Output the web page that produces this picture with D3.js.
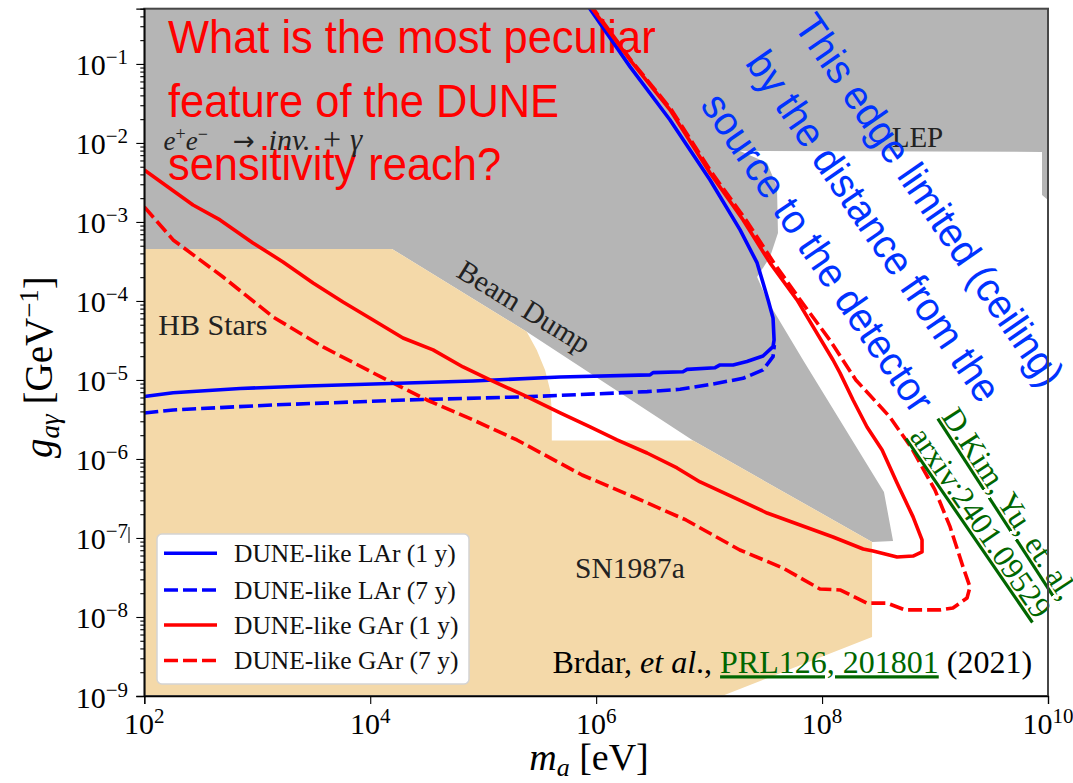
<!DOCTYPE html>
<html>
<head>
<meta charset="utf-8">
<script src="https://cdn.jsdelivr.net/npm/d3@7"></script>
<style>
  body { margin: 0; background: #fff; }
  svg { display: block; }
  .serif { font-family: 'Liberation Serif', 'DejaVu Serif', serif; }
</style>
</head>
<body>
<svg id="chart" width="1073" height="783"></svg>
<script>
(function(){
  // values: m_a in eV, g_ag in GeV^-1
  var garOneYear = [
    [1e2,4.55e-3],[2.70e2,1.64e-3],[4.68e2,1.06e-3],[9.16e2,5.42e-4],[1.69e3,3.12e-4],
    [3.12e3,1.69e-4],[5.74e3,9.7e-5],[1.06e4,5.74e-5],[1.95e4,3.40e-5],[3.60e4,2.40e-5],
    [6.63e4,1.46e-5],[1.15e5,1.0e-5],[2.26e5,6.46e-6],[4.80e5,3.82e-6],[8.84e5,2.54e-6],
    [1.53e6,1.74e-6],[2.82e6,1.19e-6],[5.20e6,7.69e-7],[8.32e6,5.12e-7],[1.63e7,3.30e-7],
    [3.26e7,2.07e-7],[6.38e7,1.46e-7],[1.25e8,1.03e-7],[2.31e8,7.26e-8],[2.83e8,6.85e-8],
    [4.61e8,5.74e-8],[6.39e8,5.91e-8],[7.67e8,6.65e-8],[7.67e8,9.44e-8],[6.39e8,1.85e-7],
    [4.61e8,4.97e-7],[3.40e8,1.30e-6],[2.50e8,2.54e-6],[1.88e8,5.58e-6],[1.44e8,1.23e-5],
    [1.25e8,1.79e-5],[6.00e7,1.03e-4],[3.46e7,3.03e-4],[2.00e7,1.06e-3],[1.02e7,4.17e-3],
    [4.51e6,2.62e-2],[2.00e6,0.112],[8.8e5,0.55]
  ];
  var garSevenYears = [
    [1e2,1.55e-3],[1.80e2,5.92e-4],[4.98e2,2.01e-4],[1.38e3,6.27e-5],[3.82e3,2.62e-5],
    [1.06e4,1.23e-5],[3.18e4,5.58e-6],[8.13e4,3.12e-6],[1.99e5,1.74e-6],[7.50e5,6.27e-7],
    [2.16e6,3.30e-7],[6.24e6,1.69e-7],[1.87e7,7.05e-8],[4.51e7,4.17e-8],[9.58e7,2.26e-8],
    [1.44e8,2.20e-8],[2.50e8,1.50e-8],[3.76e8,1.50e-8],[5.42e8,1.23e-8],[1.11e9,1.23e-8],
    [1.44e9,1.30e-8],[1.92e9,1.74e-8],[2.04e9,2.40e-8],[1.77e9,4.30e-8],[1.36e9,1.38e-7],
    [9.98e8,4.06e-7],[6.11e8,1.42e-6],[3.98e8,3.40e-6],[1.99e8,1.0e-5],[1.17e8,3.21e-5],
    [6.40e7,1.03e-4],[3.75e7,3.03e-4],[2.12e7,1.06e-3],[1.06e7,4.17e-3],[4.65e6,2.62e-2],
    [2.03e6,0.112],[9.0e5,0.55]
  ];
  var larOneYear = [
    [1e2,6.18e-6],[1.80e2,6.90e-6],[7.05e2,7.80e-6],[2.76e3,8.40e-6],[1.50e4,9.03e-6],
    [8.13e4,9.71e-6],[4.79e5,1.09e-5],[3.00e6,1.16e-5],[3.19e6,1.24e-5],[5.87e6,1.27e-5],
    [6.37e6,1.36e-5],[1.13e7,1.43e-5],[1.25e7,1.55e-5],[1.63e7,1.55e-5],[2.16e7,1.71e-5],
    [3.00e7,2.01e-5],[3.68e7,2.64e-5],[3.76e7,3.21e-5],[3.68e7,6.10e-5],[3.33e7,1.03e-4],
    [2.66e7,3.03e-4],[1.88e7,7.93e-4],[1.02e7,3.40e-3],[4.51e6,1.95e-2],[2.00e6,9.17e-2],
    [8.4e5,0.55]
  ];
  var larSevenYears = [
    [1e2,3.82e-6],[1.80e2,4.17e-6],[1.38e3,4.83e-6],[2.11e4,5.58e-6],[2.60e5,6.15e-6],
    [2.82e6,7.11e-6],[5.53e6,7.62e-6],[1.08e7,8.89e-6],[2.00e7,1.05e-5],[3.00e7,1.34e-5],
    [3.68e7,1.97e-5],[3.78e7,2.77e-5]
  ];

  // excluded regions
  var collider = [
    [1e2,0.5],[1e10,0.5],[1e10,1.90e-3],[8.85e9,2.20e-3],[8.85e9,7.69e-3],[1.88e7,7.92e-3],
    [3.26e7,5.59e-3],[3.99e7,2.77e-3],[4.07e7,7.26e-4],[3.46e7,3.60e-4],[2.66e7,2.01e-4],
    [3.26e7,1.03e-4],[6.78e7,1.79e-5],[3.53e8,3.82e-7],[4.25e8,9.16e-8],[2.77e8,8.90e-8],
    [7.20e6,1.71e-6],[2.43e5,4.08e-5],[1.56e4,4.55e-4],[1e2,4.55e-4]
  ];
  var astro = [
    [1e2,4.55e-4],[1.56e4,4.55e-4],[2.43e5,4.08e-5],[2.98e5,2.40e-5],[3.53e5,1.34e-5],
    [3.91e5,7.46e-6],[4.05e5,4.17e-6],[4.05e5,1.71e-6],[7.20e6,1.71e-6],[2.77e8,8.90e-8],
    [2.77e8,5.59e-9],[1.30e7,1e-9],[1e2,1e-9]
  ];

  var xTicks = [1e2, 1e4, 1e6, 1e8, 1e10];
  var yTicks = [1e-9, 1e-8, 1e-7, 1e-6, 1e-5, 1e-4, 1e-3, 1e-2, 1e-1];

  var legendItems = [
    {label: 'DUNE-like LAr (1 y)', color: '#0000ff', dash: null},
    {label: 'DUNE-like LAr (7 y)', color: '#0000ff', dash: '14,5'},
    {label: 'DUNE-like GAr (1 y)', color: '#ff0000', dash: null},
    {label: 'DUNE-like GAr (7 y)', color: '#ff0000', dash: '14,5'}
  ];

  var redQuestion = ['What is the most peculiar', 'feature of the DUNE', 'sensitivity reach?'];
  var blueNote = ['This edge limited (ceiling)', 'by the distance from the', 'source to the detector'];
  var greenRef = ['D.Kim, Yu, et. al,', 'arxiv:2401.09529'];

  var left = 144.3, right = 1048, top = 8.7, bottom = 696;
  var svg = d3.select('#chart');
  var x = d3.scaleLog().domain([1e2, 1e10]).range([left, right]);
  var y = d3.scaleLog().domain([1e-9, 0.5]).range([bottom, top]);

  svg.append('defs').append('clipPath').attr('id', 'plotclip')
    .append('rect').attr('x', left).attr('y', top)
    .attr('width', right - left).attr('height', bottom - top);

  var plot = svg.append('g').attr('clip-path', 'url(#plotclip)');
  var line = d3.line()
    .x(function(d) {return x(d[0]);})
    .y(function(d) {return y(d[1]);});

  plot.append('path').datum(collider).attr('d', line.curve(d3.curveLinearClosed)).attr('fill', '#b5b5b5');
  plot.append('path').datum(astro).attr('d', line.curve(d3.curveLinearClosed)).attr('fill', '#f4d9a9');
  line.curve(d3.curveLinear);

  // the slide question sits under the curves
  redQuestion.forEach(function(t, i) {
    svg.append('text')
      .attr('transform', 'translate(168,' + (53.3 + i * 63.4) + ') scale(0.955,1)')
      .attr('font-family', "'Liberation Sans', Arial, sans-serif")
      .attr('font-size', 45.5)
      .attr('fill', '#ff0000')
      .text(t);
  });

  var curves = [
    {data: larSevenYears, color: '#0000ff', dash: '14,5'},
    {data: garSevenYears, color: '#ff0000', dash: '14,5'},
    {data: larOneYear, color: '#0000ff', dash: null},
    {data: garOneYear, color: '#ff0000', dash: null}
  ];
  svg.append('g').attr('clip-path', 'url(#plotclip)')
    .selectAll('path')
    .data(curves)
    .enter()
    .append('path')
    .attr('d', function(d) {return line(d.data);})
    .attr('fill', 'none')
    .attr('stroke', function(d) {return d.color;})
    .attr('stroke-width', 3.6)
    .attr('stroke-linejoin', 'round')
    .attr('stroke-dasharray', function(d) {return d.dash;});

  // region labels
  var labels = svg.append('g').attr('class', 'serif').attr('fill', '#222');
  labels.append('text').attr('x', 158.3).attr('y', 335).attr('font-size', 30).text('HB Stars');
  labels.append('text').attr('x', 575).attr('y', 578.3).attr('font-size', 29.5).text('SN1987a');
  labels.append('text').attr('x', 891.7).attr('y', 146.7).attr('font-size', 29).text('LEP');
  labels.append('text').attr('transform', 'translate(455,276) rotate(31.5)')
    .attr('font-size', 29.5).text('Beam Dump');
  var ee = labels.append('text').attr('x', 163.6).attr('y', 150).attr('font-size', 27);
  ee.append('tspan').attr('font-style', 'italic').text('e');
  ee.append('tspan').attr('dy', -10).attr('font-size', 18).text('+');
  ee.append('tspan').attr('dy', 10).attr('font-style', 'italic').text('e');
  ee.append('tspan').attr('dy', -10).attr('font-size', 18).text('\u2212');
  ee.append('tspan').attr('dy', 10).attr('x', 233)
    .attr('font-family', "'DejaVu Sans', sans-serif").attr('font-size', 26).text('\u2192');
  ee.append('tspan').attr('x', 268.6).attr('font-size', 30).attr('font-style', 'italic').text('inv.');
  ee.append('tspan').attr('x', 323).attr('font-size', 32).text('+');
  ee.append('tspan').attr('x', 350).attr('font-size', 31).attr('font-style', 'italic').text('\u03b3');

  // legend
  var legend = svg.append('g').attr('class', 'serif');
  legend.append('rect').attr('x', 157).attr('y', 534).attr('width', 312).attr('height', 150)
    .attr('rx', 5).attr('fill', '#fff').attr('stroke', '#d4d4d4').attr('stroke-width', 1.5);
  var rows = legend.selectAll('g.row').data(legendItems).enter().append('g')
    .attr('transform', function(d, i) {return 'translate(0,' + [553.3, 590, 625, 660.5][i] + ')';});
  rows.append('line').attr('x1', 164).attr('x2', 217)
    .attr('stroke', function(d) {return d.color;})
    .attr('stroke-width', 3.6)
    .attr('stroke-dasharray', function(d) {return d.dash;});
  rows.append('text').attr('x', 234).attr('y', 8.5).attr('font-size', 25.5).attr('fill', '#111')
    .text(function(d) {return d.label;});

  // blue remark, rotated along the ceiling
  var blue = svg.append('g').attr('transform', 'translate(793,26) rotate(55.5) scale(0.95,1)');
  blueNote.forEach(function(t, i) {
    blue.append('text').attr('x', [0, 3, 13][i]).attr('y', i * 61)
      .attr('font-family', "'Liberation Sans', Arial, sans-serif")
      .attr('font-size', 41).attr('fill', '#0033ff').text(t);
  });

  // green reference
  var green = svg.append('g').attr('class', 'serif');
  [[940.8, 416.6, 57], [909, 436.6, 55.5]].forEach(function(p, i) {
    green.append('text')
      .attr('transform', 'translate(' + p[0] + ',' + p[1] + ') rotate(' + p[2] + ')')
      .attr('font-size', 31.5).attr('fill', '#006600')
      .style('text-decoration', 'underline')
      .text(greenRef[i]);
  });

  var cite = svg.append('text').attr('class', 'serif').attr('x', 552.5).attr('y', 673.3)
    .attr('font-size', 32).attr('fill', '#000');
  cite.append('tspan').text('Brdar, ');
  cite.append('tspan').attr('font-style', 'italic').text('et al');
  cite.append('tspan').text('., ');
  cite.append('tspan').attr('fill', '#006600').style('text-decoration', 'underline').text('PRL126, 201801');
  cite.append('tspan').text(' (2021)');

  // frame
  svg.append('rect').attr('x', left).attr('y', top).attr('width', right - left).attr('height', bottom - top)
    .attr('fill', 'none').attr('stroke', '#474747').attr('stroke-width', 2);

  // axes
  var gx = svg.append('g').attr('transform', 'translate(0,' + bottom + ')')
    .call(d3.axisBottom(x).tickValues(xTicks).tickSize(8).tickFormat(''));
  var minor = [];
  for (var k = -9; k < 0; k++) {
    for (var j = 2; j < 10; j++) {
      if (j * Math.pow(10, k) <= 0.5) minor.push(j * Math.pow(10, k));
    }
  }
  var gyMinor = svg.append('g').attr('transform', 'translate(' + left + ',0)')
    .call(d3.axisLeft(y).tickValues(minor).tickSize(4).tickFormat(''));
  var gy = svg.append('g').attr('transform', 'translate(' + left + ',0)')
    .call(d3.axisLeft(y).tickValues(yTicks).tickSize(8).tickFormat(''));
  [gx, gy, gyMinor].forEach(function(g) {
    g.selectAll('line').attr('stroke', '#000').attr('stroke-width', 1.1);
    g.select('.domain').attr('stroke', '#000').attr('stroke-width', 1.3);
  });
  gyMinor.select('.domain').remove();

  function power(text, e) {
    text.append('tspan').text('10');
    text.append('tspan').attr('dy', -11).attr('font-size', 21)
      .text(e < 0 ? '\u2212' + (-e) : String(e));
  }
  xTicks.forEach(function(v) {
    var t = svg.append('text').attr('class', 'serif').attr('x', x(v)).attr('y', 734)
      .attr('text-anchor', 'middle').attr('font-size', 30);
    power(t, Math.round(Math.log10(v)));
  });
  yTicks.forEach(function(v) {
    var t = svg.append('text').attr('class', 'serif').attr('x', 128).attr('y', y(v) + 11.5)
      .attr('text-anchor', 'end').attr('font-size', 30);
    power(t, Math.round(Math.log10(v)));
  });
  svg.append('line').attr('x1', 129).attr('x2', 129).attr('y1', 527).attr('y2', 543)
    .attr('stroke', '#000').attr('stroke-width', 1);

  // axis titles
  var xt = svg.append('text').attr('class', 'serif').attr('x', 589).attr('y', 770)
    .attr('text-anchor', 'middle').attr('font-size', 38);
  xt.append('tspan').attr('font-style', 'italic').text('m');
  xt.append('tspan').attr('dy', 6).attr('font-size', 26).attr('font-style', 'italic').text('a');
  xt.append('tspan').attr('dy', -6).text(' [eV]');

  var yt = svg.append('text').attr('class', 'serif')
    .attr('transform', 'translate(52,367) rotate(-90)')
    .attr('text-anchor', 'middle').attr('font-size', 39);
  yt.append('tspan').attr('font-style', 'italic').text('g');
  yt.append('tspan').attr('dy', 7).attr('font-size', 27).attr('font-style', 'italic').text('a\u03b3');
  yt.append('tspan').attr('dy', -7).text(' [GeV');
  yt.append('tspan').attr('dy', -14).attr('font-size', 27).text('\u22121');
  yt.append('tspan').attr('dy', 14).text(']');
})();
</script>
</body>
</html>
